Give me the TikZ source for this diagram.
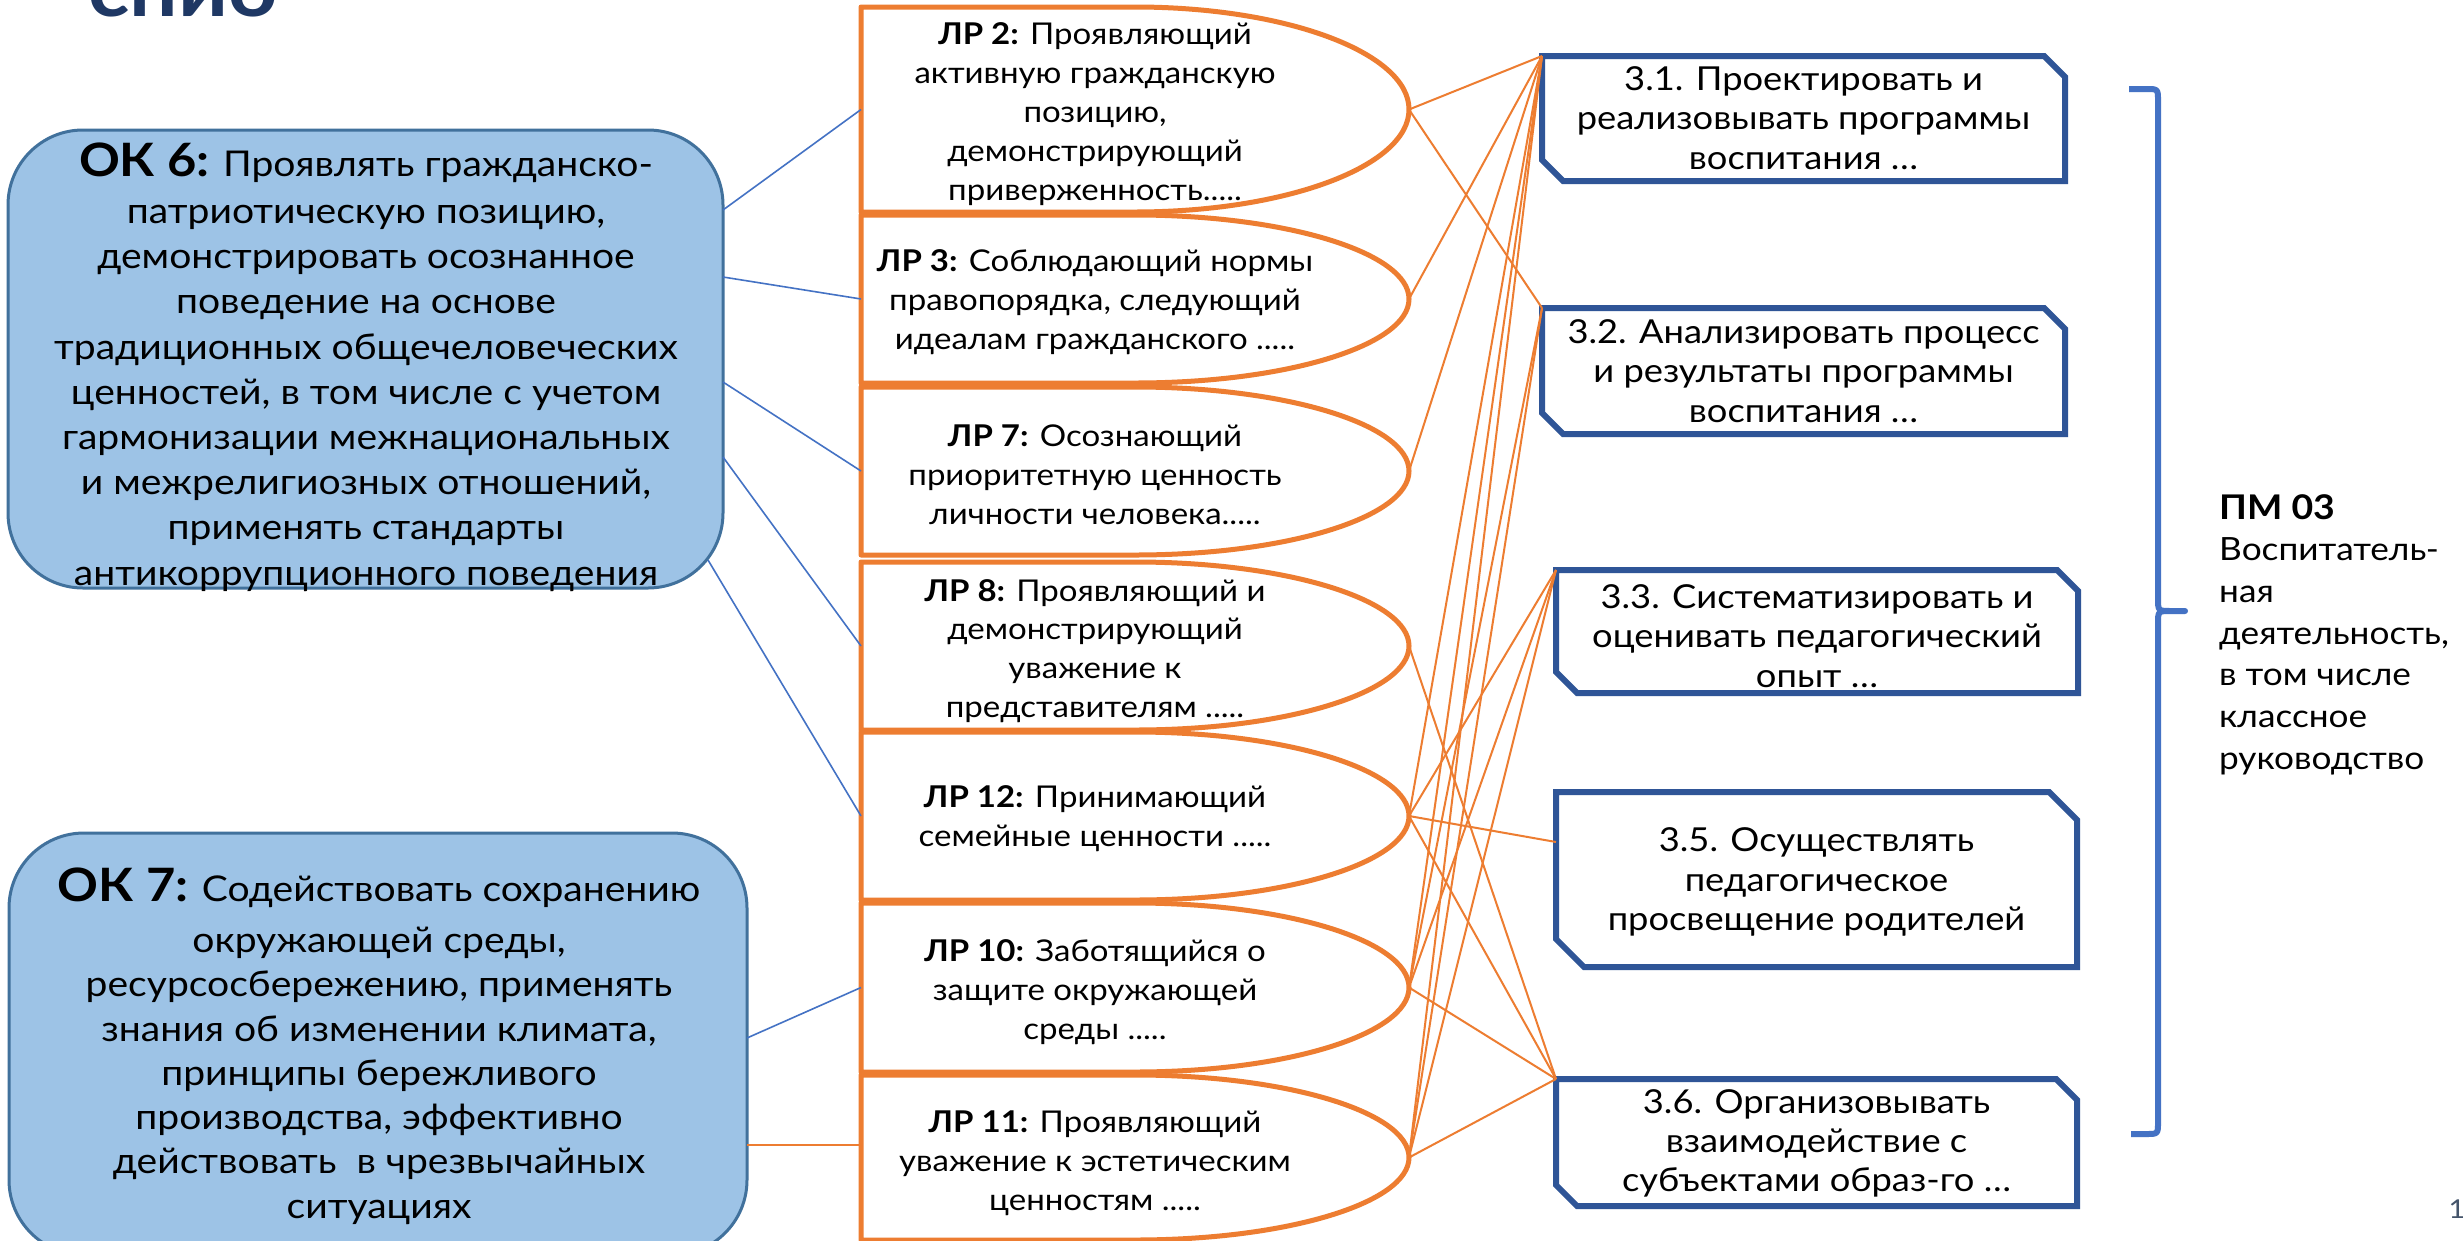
\documentclass[tikz,border=0pt]{standalone}
\usepackage{fontspec}
\setmainfont{Lato}[FakeStretch=1.1]
\usetikzlibrary{calc}
\definecolor{okfill}{HTML}{9DC3E6}
\definecolor{okdraw}{HTML}{41719C}
\definecolor{lrorange}{HTML}{ED7D31}
\definecolor{pmblue}{HTML}{2F5597}
\definecolor{braceblue}{HTML}{4472C4}
\definecolor{navy}{HTML}{1F3864}
\definecolor{pagegray}{HTML}{44546A}
\begin{document}
\begin{tikzpicture}[x=1pt,y=-1pt,
  geom/.style={rectangle,inner sep=0pt,outer sep=0pt},
  okbox/.style={geom,rounded corners=75pt,fill=okfill,draw=okdraw,line width=3pt},
  oktext/.style={align=center,inner sep=0pt},
  lrtext/.style={align=center,inner sep=0pt,font=\fontsize{30}{38.9}\selectfont},
  lrline/.style={draw=lrorange,fill=white,line width=5pt,line join=round},
  pmbox/.style={draw=pmblue,fill=white,line width=6pt},
  pmtext/.style={align=center,inner sep=0pt,font=\fontsize{33}{39.3}\selectfont},
  oconn/.style={draw=lrorange,line width=2pt},
  bconn/.style={draw=braceblue,line width=1.6pt},
]
\fill[white] (0,0) rectangle (2463,1240);
\useasboundingbox (0,0) rectangle (2463,1240);

% title (cut off at top)
\node[anchor=base west,inner sep=0pt,text=navy,font=\fontsize{78}{80}\selectfont\bfseries] (title) at (88,16) {спио};

% OK boxes
\node[okbox,minimum width=715pt,minimum height=458pt] (ok6) at (365.5,359) {};
\node[oktext,font=\fontsize{35.5}{45.2}\selectfont] (ok6t) at (366,367) {{\fontsize{46}{45}\selectfont\bfseries ОК 6:} Проявлять гражданско-\\[2pt]патриотическую позицию,\\демонстрировать осознанное\\поведение на основе\\традиционных общечеловеческих\\ценностей, в том числе с учетом\\гармонизации межнациональных\\и межрелигиозных отношений,\\применять стандарты\\антикоррупционного поведения};

\node[okbox,minimum width=738pt,minimum height=422pt] (ok7) at (378,1044) {};
\node[oktext,font=\fontsize{35.5}{44.3}\selectfont] (ok7t) at (379,1046) {{\fontsize{46}{45}\selectfont\bfseries ОК 7:} Содействовать сохранению\\[7pt]окружающей среды,\\ресурсосбережению, применять\\знания об изменении климата,\\принципы бережливого\\производства, эффективно\\действовать\ \ в чрезвычайных\\ситуациях};

% LR shapes
\foreach \n/\cy/\h in {lr2/109.5/205, lr3/299/168, lr7/471/168, lr8/646/168, lr12/816/168, lr10/987.5/169, lr11/1157.5/165}{
  \node[geom,minimum width=548pt,minimum height=\h*1pt] (\n) at (1135,\cy) {};
  \draw[lrline] (\n.north west) -- (\n.north) arc[start angle=90,end angle=-90,x radius=274pt,y radius=\h/2*1pt] -- (\n.south west) -- cycle;
}
\node[lrtext] (lr2t) at (1095,114) {\textbf{ЛР 2:} Проявляющий\\активную гражданскую\\позицию,\\демонстрирующий\\приверженность.....};
\node[lrtext] (lr3t) at (1095,302) {\textbf{ЛР 3:} Соблюдающий нормы\\правопорядка, следующий\\идеалам гражданского .....};
\node[lrtext] (lr7t) at (1095,475) {\textbf{ЛР 7:} Осознающий\\приоритетную ценность\\личности человека.....};
\node[lrtext] (lr8t) at (1095,651) {\textbf{ЛР 8:} Проявляющий и\\демонстрирующий\\уважение к\\представителям .....};
\node[lrtext] (lr12t) at (1095,819) {\textbf{ЛР 12:} Принимающий\\семейные ценности .....};
\node[lrtext] (lr10t) at (1095,992) {\textbf{ЛР 10:} Заботящийся о\\защите окружающей\\среды .....};
\node[lrtext] (lr11t) at (1095,1163) {\textbf{ЛР 11:} Проявляющий\\уважение к эстетическим\\ценностям .....};

% PM boxes
\foreach \n/\cx/\cy/\w/\h/\s in {t31/1803.5/118.5/523/125/21, t32/1803.5/371/523/126/21, t33/1817/631.5/522/123/21, t35/1816.5/879.5/521/175/28, t36/1816.5/1142.5/521/127/21}{
  \node[geom,minimum width=\w*1pt,minimum height=\h*1pt] (\n) at (\cx,\cy) {};
  \draw[pmbox] (\n.north west) -- ([xshift=-\s*1pt]\n.north east) -- ([yshift=-\s*1pt]\n.north east) -- (\n.south east) -- ([xshift=\s*1pt]\n.south west) -- ([yshift=\s*1pt]\n.south west) -- cycle;
}
\node[pmtext] (t31t) at (1803.5,118) {3.1. Проектировать и\\реализовывать программы\\воспитания …};
\node[pmtext] (t32t) at (1803.5,371) {3.2. Анализировать процесс\\и результаты программы\\воспитания …};
\node[pmtext] (t33t) at (1817,636) {3.3. Систематизировать и\\оценивать педагогический\\опыт …};
\node[pmtext] (t35t) at (1816.5,882) {3.5. Осуществлять\\педагогическое\\просвещение родителей};
\node[pmtext] (t36t) at (1816.5,1143.5) {3.6. Организовывать\\взаимодействие с\\субъектами образ-го …};

% brace
\draw[draw=braceblue,line width=6pt,line join=round] (2129,89) -- (2146,89) .. controls (2158,89) .. (2158,101) -- (2158,598) .. controls (2158,611) .. (2171,611) -- (2185,611) -- (2171,611) .. controls (2158,611) .. (2158,624) -- (2158,1122) .. controls (2158,1134) .. (2146,1134) -- (2131,1134);

% PM label
\node[anchor=north west,align=left,inner sep=0pt,font=\fontsize{32}{41.7}\selectfont] (pm) at (2219,494) {{\fontsize{34}{41.7}\selectfont\bfseries ПМ 03}\\Воспитатель-\\ная\\деятельность,\\в том числе\\классное\\руководство};

% page number
\node[anchor=base,inner sep=0pt,text=pagegray,font=\fontsize{26}{26}\selectfont] (pg) at (2457,1218) {1};

% blue connectors
\coordinate (k1) at (723,210);
\coordinate (k2) at (723,277);
\coordinate (k3) at (723,382);
\coordinate (k4) at (723,457);
\coordinate (k5) at (708,560);
\coordinate (k6) at (747,1038);
\coordinate (k7) at (747,1145);
\draw[bconn] (k1) -- (lr2.west);
\draw[bconn] (k2) -- (lr3.west);
\draw[bconn] (k3) -- (lr7.west);
\draw[bconn] (k4) -- (lr8.west);
\draw[bconn] (k5) -- (lr12.west);
\draw[bconn] (k6) -- (lr10.west);
\draw[oconn] (k7) -- (k7 -| lr11.west);

% orange connectors
\foreach \a/\b in {lr2/t31, lr2/t32, lr3/t31, lr7/t31, lr8/t36, lr12/t31, lr12/t33, lr12/t36, lr10/t31, lr10/t32, lr10/t33, lr10/t36, lr11/t31, lr11/t32, lr11/t33, lr11/t36}
  \draw[oconn] (\a.east) -- (\b.north west);
\coordinate (t35in) at ($(t35.north west)+(0,50)$);
\draw[oconn] (lr12.east) -- (t35in);
\end{tikzpicture}
\end{document}
